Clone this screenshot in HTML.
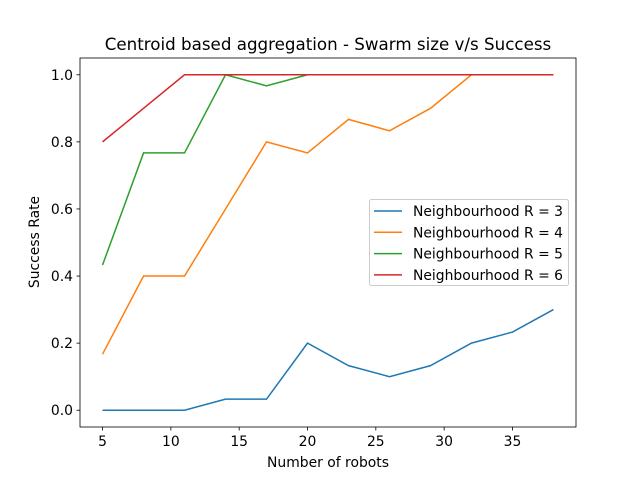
<!DOCTYPE html>
<html><head><meta charset="utf-8"><style>
body{margin:0;background:#fff;}
svg{display:block;font-family:"DejaVu Sans","Liberation Sans",sans-serif;}
</style></head><body>
<svg id="chart" width="640" height="480">
<rect width="640" height="480" fill="#fff"/>
<text x="328" y="50" font-size="16.7" text-anchor="middle">Centroid based aggregation - Swarm size v/s Success</text>
<text x="328" y="467" font-size="13.9" text-anchor="middle">Number of robots</text>
<text x="39" y="242" font-size="13.9" text-anchor="middle" transform="rotate(-90 39 242)">Success Rate</text>
<g id="plot"></g>
</svg>
<script>
const xs=[5,8,11,14,17,20,23,26,29,32,35,38];
const r3=[0,0,0,0.033,0.033,0.2,0.133,0.1,0.133,0.2,0.233,0.3];
const r4=[0.167,0.4,0.4,0.6,0.8,0.767,0.867,0.833,0.9,1,1,1];
const r5=[0.433,0.767,0.767,1,0.967,1,1,1,1,1,1,1];
const r6=[0.8,0.9,1,1,1,1,1,1,1,1,1,1];
const seriesLabels=["Neighbourhood R = 3","Neighbourhood R = 4","Neighbourhood R = 5","Neighbourhood R = 6"];
const xTicks=[5,10,15,20,25,30,35];
const yTicks=[0,0.2,0.4,0.6,0.8,1.0];
const L=80,R=576,T=58,B=427;
const xmin=3.35,xmax=39.65,ymin=-0.05,ymax=1.05;
const X=v=>L+(v-xmin)/(xmax-xmin)*(R-L);
const Y=v=>B-(v-ymin)/(ymax-ymin)*(B-T);
const g=document.getElementById('plot');
const NS='http://www.w3.org/2000/svg';
function mk(t,a){const e=document.createElementNS(NS,t);for(const k in a)e.setAttribute(k,a[k]);g.appendChild(e);return e;}
const colors=['#1f77b4','#ff7f0e','#2ca02c','#d62728'];
[r3,r4,r5,r6].forEach((s,i)=>{
 const p=mk('polyline',{points:s.map((v,j)=>X(xs[j])+','+Y(v)).join(' '),fill:'none',stroke:colors[i],'stroke-width':1.5});
 
 
});
const fr=mk('rect',{x:L,y:T,width:R-L,height:B-T,fill:'none',stroke:'#000','stroke-width':0.8});


xTicks.forEach(v=>{
 const t=mk('line',{x1:X(v),x2:X(v),y1:B,y2:B+3.5,stroke:'#000','stroke-width':0.8});
 
 
 const l=mk('text',{x:X(v),y:B+19,'font-size':13.9,'text-anchor':'middle'});l.textContent=v;
 
 
});
yTicks.forEach(v=>{
 const t=mk('line',{x1:L-3.5,x2:L,y1:Y(v),y2:Y(v),stroke:'#000','stroke-width':0.8});
 
 
 const l=mk('text',{x:L-7,y:Y(v)+5,'font-size':13.9,'text-anchor':'end'});l.textContent=v.toFixed(1);
 
 
});
const lb=mk('rect',{x:369.5,y:199.5,width:199,height:86,rx:2,fill:'#fff','fill-opacity':0.8,stroke:'#ccc'});


seriesLabels.forEach((s,i)=>{
 const y=211+i*21.3;
 const ln=mk('line',{x1:374,x2:402,y1:y,y2:y,stroke:colors[i],'stroke-width':1.5});
 
 
 const t=mk('text',{x:413,y:y+5,'font-size':13.9});t.textContent=s;
 
 
});
</script>
</body></html>
